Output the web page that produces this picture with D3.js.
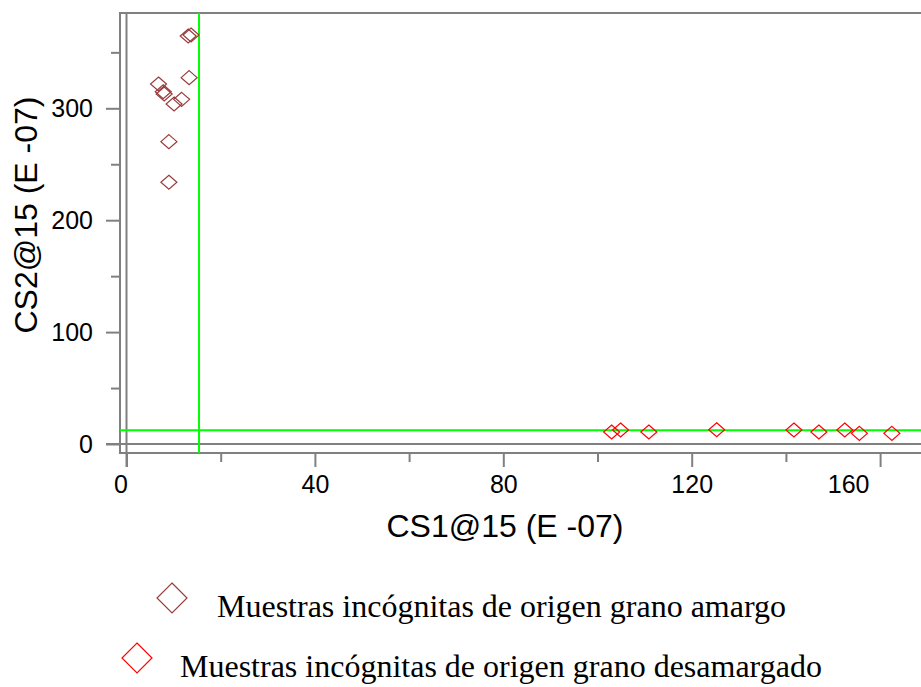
<!DOCTYPE html>
<html>
<head>
<meta charset="utf-8">
<script src="https://cdn.jsdelivr.net/npm/d3@7"></script>
<style>
  html, body { margin: 0; padding: 0; background: #ffffff; }
  svg { display: block; }
</style>
</head>
<body>
<svg id="chart" width="921" height="687"></svg>
<script>
// Canonical score CS1 vs CS2 (units of 1e-7) for unknown samples
const amargoCS1 = [13.1, 13.7, 13.3, 6.8, 7.8, 8.0, 11.7, 10.1, 9.0, 9.0];
const amargoCS2 = [364.6, 365.5, 327.4, 321.7, 314.8, 312.8, 308.0, 303.8, 270.2, 233.9];

const desamargadoCS1 = [103.0, 104.9, 110.9, 125.3, 141.7, 147.0, 152.5, 155.6, 162.5];
const desamargadoCS2 = [10.7, 12.5, 10.7, 12.8, 12.5, 10.7, 12.5, 9.5, 9.5];

// Cut-off lines separating the two groups
const cutCS1 = 15.4;
const cutCS2 = 12.2;

const xMajorTicks = [0, 40, 80, 120, 160];
const xMinorTicks = [20, 60, 100, 140];
const yMajorTicks = [0, 100, 200, 300];
const yMinorTicks = [50, 150, 250, 350];

const legendLabels = [
  "Muestras incógnitas de origen grano amargo",
  "Muestras incógnitas de origen grano desamargado"
];

const colAmargo = "#993b3b";
const colDesamargado = "#ff0000";
const gridGray = "#808080";
const cutGreen = "#00ff00";

const svg = d3.select("#chart");

// Plot frame
const frame = { left: 120, top: 13, right: 930, bottom: 453 };

const x = d3.scaleLinear().domain([0, 160]).range([126.5, 880.1]);
const y = d3.scaleLinear().domain([0, 300]).range([444, 108.3]);

// Frame box
svg.append("rect")
  .attr("x", frame.left).attr("y", frame.top)
  .attr("width", frame.right - frame.left)
  .attr("height", frame.bottom - frame.top)
  .attr("fill", "none")
  .attr("stroke", gridGray)
  .attr("stroke-width", 2);

// Zero lines
svg.append("line")
  .attr("x1", x(0)).attr("x2", x(0))
  .attr("y1", frame.top).attr("y2", frame.bottom + 14)
  .attr("stroke", gridGray).attr("stroke-width", 2);
svg.append("line")
  .attr("x1", frame.left - 14).attr("x2", frame.right)
  .attr("y1", y(0)).attr("y2", y(0))
  .attr("stroke", gridGray).attr("stroke-width", 2);

// Axes
function styleAxis(g) {
  g.select(".domain").remove();
  g.selectAll(".tick line").attr("stroke", gridGray).attr("stroke-width", 2);
  g.selectAll(".tick text")
    .attr("fill", "#000")
    .style("font-family", "'Liberation Sans', Arial, sans-serif")
    .style("font-size", "25px");
}

svg.append("g")
  .attr("transform", `translate(0,${frame.bottom})`)
  .call(d3.axisBottom(x).tickValues(xMinorTicks).tickSize(9).tickFormat(""))
  .call(styleAxis);

const xAxisG = svg.append("g")
  .attr("transform", `translate(0,${frame.bottom})`)
  .call(d3.axisBottom(x).tickValues(xMajorTicks).tickSize(14).tickPadding(8).tickFormat(d3.format("d")))
  .call(styleAxis);
// Edge labels are nudged so they stay clear of the frame corners
xAxisG.selectAll(".tick").filter(d => d === 0).select("text").attr("dx", -6);
xAxisG.selectAll(".tick").filter(d => d === 160).select("text").attr("dx", -32);

svg.append("g")
  .attr("transform", `translate(${frame.left},0)`)
  .call(d3.axisLeft(y).tickValues(yMinorTicks).tickSize(9).tickFormat(""))
  .call(styleAxis);

svg.append("g")
  .attr("transform", `translate(${frame.left},0)`)
  .call(d3.axisLeft(y).tickValues(yMajorTicks).tickSize(14).tickPadding(13).tickFormat(d3.format("d")))
  .call(styleAxis);

// Cut-off lines
svg.append("line")
  .attr("x1", x(cutCS1)).attr("x2", x(cutCS1))
  .attr("y1", frame.top).attr("y2", frame.bottom)
  .attr("stroke", cutGreen).attr("stroke-width", 2);
svg.append("line")
  .attr("x1", frame.left).attr("x2", frame.right)
  .attr("y1", y(cutCS2)).attr("y2", y(cutCS2))
  .attr("stroke", cutGreen).attr("stroke-width", 2);

// Diamond markers
const diamond = (w, h) => `M0,${-h / 2}L${w / 2},0L0,${h / 2}L${-w / 2},0Z`;

function drawSeries(xs, ys, color) {
  svg.append("g").selectAll("path")
    .data(xs.map((v, i) => [v, ys[i]]))
    .join("path")
    .attr("d", diamond(16, 14))
    .attr("transform", d => `translate(${x(d[0])},${y(d[1])})`)
    .attr("fill", "none")
    .attr("stroke", color)
    .attr("stroke-width", 1.2);
}
drawSeries(amargoCS1, amargoCS2, colAmargo);
drawSeries(desamargadoCS1, desamargadoCS2, colDesamargado);

// Axis titles
svg.append("text")
  .attr("x", 505).attr("y", 537)
  .attr("text-anchor", "middle")
  .style("font-family", "'Liberation Sans', Arial, sans-serif")
  .style("font-size", "32px")
  .text("CS1@15 (E -07)");

svg.append("text")
  .attr("transform", "translate(37,215) rotate(-90)")
  .attr("text-anchor", "middle")
  .style("font-family", "'Liberation Sans', Arial, sans-serif")
  .style("font-size", "32px")
  .text("CS2@15 (E -07)");

// Legend
const legendRows = [
  { marker: [172, 598], textX: 217, baseline: 617, color: colAmargo, label: legendLabels[0] },
  { marker: [137, 658], textX: 180, baseline: 677, color: colDesamargado, label: legendLabels[1] }
];
const lg = svg.append("g");
legendRows.forEach(r => {
  lg.append("path")
    .attr("d", diamond(30, 30))
    .attr("transform", `translate(${r.marker[0]},${r.marker[1]})`)
    .attr("fill", "none")
    .attr("stroke", r.color)
    .attr("stroke-width", 1.2);
  lg.append("text")
    .attr("x", r.textX).attr("y", r.baseline)
    .style("font-family", "'Liberation Serif', 'Times New Roman', serif")
    .style("font-size", "32px")
    .attr("fill", "#000")
    .text(r.label);
});
</script>
</body>
</html>
